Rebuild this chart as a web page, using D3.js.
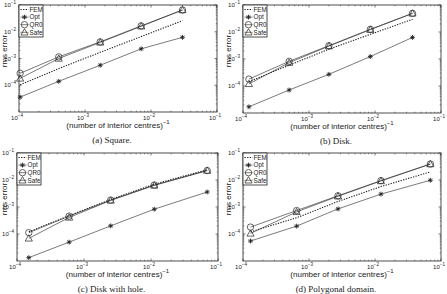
<!DOCTYPE html>
<html><head><meta charset="utf-8">
<script src="https://cdn.jsdelivr.net/npm/d3@7"></script>
<style>body{margin:0;background:#fff}svg{display:block}</style>
</head><body>
<svg id="c" width="447" height="294"></svg>
<script>
// ---- data ----
const series = ["FEM", "Opt", "QR0", "Safe"];
const xTicks = [1e-4, 1e-3, 1e-2, 1e-1];
const yTicks = [1e-4, 1e-3, 1e-2, 1e-1];
const captions = ["(a) Square.", "(b) Disk.", "(c) Disk with hole.", "(d) Polygonal domain."];

const xA = [1.04e-4, 4.0e-4, 1.7e-3, 7.1e-3, 3.0e-2];
const femA = [1.05e-4, 4.2e-4, 1.7e-3, 6.6e-3, 2.6e-2];
const optA = [3.6e-5, 1.4e-4, 5.6e-4, 2.3e-3, 6.2e-3];
const qr0A = [2.8e-4, 1.15e-3, 4.2e-3, 1.66e-2, 6.5e-2];
const safeA = [1.8e-4, 1.0e-3, 4.0e-3, 1.6e-2, 6.5e-2];

const xB = [1.23e-4, 5.0e-4, 2.0e-3, 8.5e-3, 3.7e-2];
const femB = [1.45e-4, 5.9e-4, 2.3e-3, 8.2e-3, 2.95e-2];
const optB = [1.7e-5, 7.1e-5, 2.7e-4, 1.23e-3, 6.3e-3];
const qr0B = [1.8e-4, 8.2e-4, 3.1e-3, 1.26e-2, 4.9e-2];
const safeB = [1.2e-4, 7.3e-4, 3.0e-3, 1.22e-2, 4.9e-2];

const xC = [1.5e-4, 6.0e-4, 2.5e-3, 1.12e-2, 6.9e-2];
const femC = [1.2e-4, 4.8e-4, 1.9e-3, 7.0e-3, 2.4e-2];
const optC = [1.33e-5, 5.0e-5, 2.0e-4, 8.3e-4, 3.6e-3];
const qr0C = [1.12e-4, 4.6e-4, 1.8e-3, 6.5e-3, 2.24e-2];
const safeC = [6.9e-5, 4.1e-4, 1.75e-3, 6.3e-3, 2.24e-2];

const xD = [1.3e-4, 6.5e-4, 2.75e-3, 1.23e-2, 6.9e-2];
const femD = [1.2e-4, 4.0e-4, 1.6e-3, 5.7e-3, 2.0e-2];
const optD = [5.5e-5, 1.96e-4, 8.5e-4, 3.0e-3, 9.8e-3];
const qr0D = [1.8e-4, 7.4e-4, 2.6e-3, 9.5e-3, 3.9e-2];
const safeD = [1.05e-4, 6.6e-4, 2.5e-3, 9.2e-3, 3.9e-2];

const panels = [
  {x: xA, FEM: femA, Opt: optA, QR0: qr0A, Safe: safeA, box: [19, 5, 217, 112], cap: captions[0]},
  {x: xB, FEM: femB, Opt: optB, QR0: qr0B, Safe: safeB, box: [243, 5, 441, 113], cap: captions[1]},
  {x: xC, FEM: femC, Opt: optC, QR0: qr0C, Safe: safeC, box: [17, 153, 218, 261], cap: captions[2]},
  {x: xD, FEM: femD, Opt: optD, QR0: qr0D, Safe: safeD, box: [243, 153, 441, 261], cap: captions[3]}
];

const svg = d3.select("#c");
const ink = "#222";
const sans = "'Liberation Sans', Arial, sans-serif";
const serif = "'Liberation Serif', 'DejaVu Serif', serif";

function pow10Label(sel, v) {
  const e = Math.round(Math.log10(v));
  sel.append("tspan").text("10");
  sel.append("tspan").attr("dy", -3).attr("font-size", 4.5).text("\u2212" + Math.abs(e));
}

function marker(g, type, x, y) {
  if (type === "QR0") {
    g.append("circle").attr("cx", x).attr("cy", y).attr("r", 3.2)
      .attr("fill", "none").attr("stroke", ink).attr("stroke-width", 0.7);
  } else if (type === "Safe") {
    const s = 3.6;
    g.append("path").attr("d", `M${x},${y - s}L${x + s},${y + s * 0.75}L${x - s},${y + s * 0.75}Z`)
      .attr("fill", "none").attr("stroke", ink).attr("stroke-width", 0.7);
  } else if (type === "Opt") {
    const r = 2.4;
    let d = "";
    for (let k = 0; k < 4; k++) {
      const a = k * Math.PI / 4;
      d += `M${x - r * Math.cos(a)},${y - r * Math.sin(a)}L${x + r * Math.cos(a)},${y + r * Math.sin(a)}`;
    }
    g.append("path").attr("d", d).attr("stroke", ink).attr("stroke-width", 0.9);
  }
}

panels.forEach(p => {
  const [x0, y0, x1, y1] = p.box;
  const xs = d3.scaleLog().domain([1e-4, 1e-1]).range([x0, x1]);
  const ys = d3.scaleLog().domain([1e-5, 1e-1]).range([y1, y0]);
  const g = svg.append("g");

  const xMinor = [], yMinor = [];
  for (let e = -4; e < -1; e++) for (let m = 2; m <= 9; m++) xMinor.push(m * Math.pow(10, e));
  for (let e = -5; e < -1; e++) for (let m = 2; m <= 9; m++) yMinor.push(m * Math.pow(10, e));
  xMinor.forEach(v => {
    g.append("line").attr("x1", xs(v)).attr("x2", xs(v)).attr("y1", y1).attr("y2", y1 - 1.3).attr("stroke", ink).attr("stroke-width", 0.5);
    g.append("line").attr("x1", xs(v)).attr("x2", xs(v)).attr("y1", y0).attr("y2", y0 + 1.3).attr("stroke", ink).attr("stroke-width", 0.5);
  });
  yMinor.forEach(v => {
    g.append("line").attr("y1", ys(v)).attr("y2", ys(v)).attr("x1", x0).attr("x2", x0 + 1.3).attr("stroke", ink).attr("stroke-width", 0.5);
    g.append("line").attr("y1", ys(v)).attr("y2", ys(v)).attr("x1", x1).attr("x2", x1 - 1.3).attr("stroke", ink).attr("stroke-width", 0.5);
  });
  xTicks.forEach(v => {
    g.append("line").attr("x1", xs(v)).attr("x2", xs(v)).attr("y1", y1).attr("y2", y1 - 2.5).attr("stroke", ink).attr("stroke-width", 0.6);
    g.append("line").attr("x1", xs(v)).attr("x2", xs(v)).attr("y1", y0).attr("y2", y0 + 2.5).attr("stroke", ink).attr("stroke-width", 0.6);
    const t = g.append("text").attr("x", xs(v) - 2).attr("y", y1 + 8).attr("text-anchor", "middle")
      .attr("font-family", sans).attr("font-size", 6).attr("fill", ink);
    pow10Label(t, v);
  });
  yTicks.forEach(v => {
    g.append("line").attr("y1", ys(v)).attr("y2", ys(v)).attr("x1", x0).attr("x2", x0 + 2.5).attr("stroke", ink).attr("stroke-width", 0.6);
    g.append("line").attr("y1", ys(v)).attr("y2", ys(v)).attr("x1", x1).attr("x2", x1 - 2.5).attr("stroke", ink).attr("stroke-width", 0.6);
    const t = g.append("text").attr("x", x0 - 9).attr("y", ys(v) + 2).attr("text-anchor", "middle")
      .attr("font-family", sans).attr("font-size", 6).attr("fill", ink);
    pow10Label(t, v);
  });

  g.append("rect").attr("x", x0).attr("y", y0).attr("width", x1 - x0).attr("height", y1 - y0)
    .attr("fill", "none").attr("stroke", ink).attr("stroke-width", 0.8);

  const line = d3.line().x(d => xs(d[0])).y(d => ys(d[1]));
  series.forEach(s => {
    const pts = p.x.map((xv, i) => [xv, p[s][i]]);
    g.append("path").attr("d", line(pts)).attr("fill", "none").attr("stroke", ink)
      .attr("stroke-width", s === "FEM" ? 1.1 : 0.6)
      .attr("stroke-dasharray", s === "FEM" ? "1.3,1.3" : null);
    if (s !== "FEM") pts.forEach(d => marker(g, s, xs(d[0]), ys(d[1])));
  });

  const lw = 24, lh = 32;
  g.append("rect").attr("x", x0).attr("y", y0).attr("width", lw).attr("height", lh)
    .attr("fill", "#fff").attr("stroke", ink).attr("stroke-width", 0.8);
  series.forEach((s, i) => {
    const ly = y0 + 4.5 + i * 7.6;
    g.append("line").attr("x1", x0 + 1.5).attr("x2", x0 + 9.5).attr("y1", ly).attr("y2", ly)
      .attr("stroke", ink).attr("stroke-width", s === "FEM" ? 1.1 : 0.6)
      .attr("stroke-dasharray", s === "FEM" ? "1.3,1.3" : null);
    marker(g, s, x0 + 5.5, ly);
    g.append("text").attr("x", x0 + 10.5).attr("y", ly + 2.2).attr("font-family", sans)
      .attr("font-size", 6.3).attr("fill", ink).text(s);
  });

  const xl = g.append("text").attr("x", (x0 + x1) / 2).attr("y", y1 + 15.5).attr("text-anchor", "middle")
    .attr("font-family", sans).attr("font-size", 8).attr("fill", ink);
  xl.append("tspan").text("(number of interior centres)");
  xl.append("tspan").attr("dy", -3.5).attr("font-size", 6).text("\u22121");
  g.append("text").attr("transform", `translate(${Math.max(x0 - 12, 7)},${y0 + 46}) rotate(-90)`)
    .attr("text-anchor", "middle").attr("font-family", sans).attr("font-size", 8).attr("fill", ink)
    .text("rms error");

  g.append("text").attr("x", (x0 + x1) / 2 - 6).attr("y", y1 + 31).attr("text-anchor", "middle")
    .attr("font-family", serif).attr("font-size", 9).attr("fill", ink).text(p.cap);
});
</script>
</body></html>
